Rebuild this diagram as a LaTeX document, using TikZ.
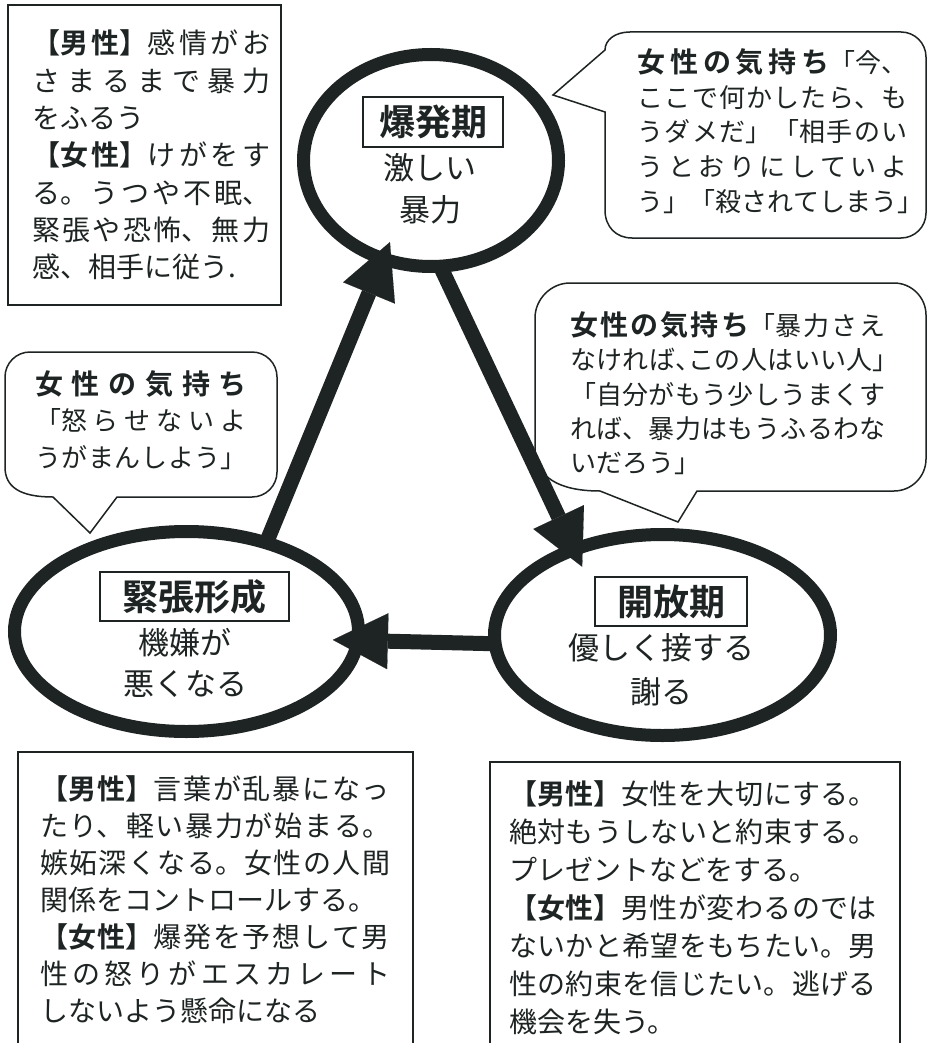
\documentclass[tikz,border=0pt]{standalone}
\usepackage{fontspec}
\setmainfont{Noto Sans CJK JP}[BoldFont={Noto Sans CJK JP Bold}]
\usetikzlibrary{shapes.geometric,arrows.meta}
\XeTeXlinebreaklocale "ja"
\XeTeXlinebreakskip=0pt plus 12pt
\definecolor{ink}{RGB}{30,35,35}
\newcommand\jb{\unskip\break}
\newcommand\rb{\unskip\hfill\break}
\newcommand\fs[2]{\fontsize{#1pt}{#2pt}\selectfont}
\begin{document}
\begin{tikzpicture}[x=1pt,y=-1pt,
  phase/.style={ellipse, draw=ink, line width=13pt, inner sep=0pt, outer sep=0pt},
  lab/.style={draw=ink, line width=1.3pt, inner sep=0pt, font=\bfseries\fs{36}{40}, text=ink},
  boxframe/.style={draw=ink, line width=1.6pt, inner sep=0pt},
  bubble/.style={draw=ink, line width=1.5pt, fill=white},
  txt/.style={inner sep=0pt, align=justify, text=ink},
  etxt/.style={inner sep=0pt, align=center, text=ink},
  arr/.style={draw=ink, line width=15pt, -{Triangle[length=55pt,width=56pt,line width=0.1pt]}}
]
\fill[white] (0,0) rectangle (929,1043);
\useasboundingbox (0,0) rectangle (929,1043);

% speech bubbles
\draw[bubble] (605,112) -- (553,95) -- (605,50) .. controls (605,40) and (615,32) .. (630,32)
  -- (901,32) .. controls (914.8,32) and (926,43.2) .. (926,57)
  -- (926,213) .. controls (926,226.8) and (914.8,238) .. (901,238)
  -- (632,238) .. controls (616,238) and (605,226.8) .. (605,210) -- cycle;
\draw[bubble] (600,491) -- (678,522) -- (697,491) -- (894,491) .. controls (911.6,491) and (926,476.6) .. (926,459)
  -- (926,315) .. controls (926,297.4) and (911.6,283) .. (894,283)
  -- (570,283) .. controls (551,283) and (535,299) .. (535,318)
  -- (535,448) .. controls (535,478) and (560,491) .. (600,491) -- cycle;
\draw[bubble] (53,497) -- (90,533) -- (117,497) -- (252,497) .. controls (265.8,497) and (277,485.8) .. (277,472)
  -- (277,377) .. controls (277,363.2) and (265.8,352) .. (252,352)
  -- (30,352) .. controls (16.2,352) and (5,363.2) .. (5,377)
  -- (5,467) .. controls (5,487) and (20,497) .. (53,497) -- cycle;

% rectangular boxes
\node[boxframe, minimum width=273pt, minimum height=300pt] (boxTL) at (144.5,155) {};
\node[boxframe, minimum width=395pt, minimum height=298pt] (boxBL) at (215.5,901) {};
\node[boxframe, minimum width=410pt, minimum height=288pt] (boxBR) at (695,906) {};

% texts
\node[txt, text width=238pt, font=\fs{28}{37.3}] (tTL) at (151,155)
{{\bfseries 【男性】}感情がお\jb さまるまで暴力\jb をふるう\rb {\bfseries 【女性】}けがをす\jb る。うつや不眠、\jb 緊張や恐怖、無力\jb 感、相手に従う.\par};

\node[txt, text width=270pt, font=\fs{26}{34.6}] (tTR) at (772.5,131)
{{\bfseries\fs{28}{34.6}女性の気持ち}「今、\jb ここで何かしたら、も\jb うダメだ」「相手のい\jb うとおりにしていよ\jb \makebox[270pt][s]{う」\hfil「殺\hfil さ\hfil れ\hfil て\hfil し\hfil ま\hfil う」}\par};

\node[txt, text width=316pt, font=\fs{26}{34.2}] (tRM) at (728,393.3)
{{\bfseries\fs{28}{34.2}女性の気持ち}「暴力さえ\jb なければ\makebox[13pt][l]{、}この人はいい人\makebox[13pt][l]{」}\jb 「自分がもう少しうまくす\jb れば、暴力はもうふるわな\jb いだろう」\par};

\node[txt, text width=212pt, font=\fs{26}{36.7}] (tLM) at (141,420)
{\parfillskip=0pt {\bfseries\fs{28}{36.7}女性の気持ち}\jb 「怒らせないよ\jb うがまんしよう」\par};

\node[txt, text width=350pt, font=\fs{28}{37}] (tBL) at (215,900)
{{\bfseries 【男性】}言葉が乱暴になっ\jb たり、軽い暴力が始まる。\jb 嫉妬深くなる。女性の人間\jb 関係をコントロールする。\rb {\bfseries 【女性】}爆発を予想して男\jb 性の怒りがエスカレート\jb しないよう懸命になる\par};

\node[txt, text width=368pt, font=\fs{28}{38}] (tBR) at (693,907.5)
{{\bfseries 【男性】}女性を大切にする。\jb 絶対もうしないと約束する。\jb プレゼントなどをする。\rb {\bfseries 【女性】}男性が変わるのでは\jb ないかと希望をもちたい。男\jb 性の約束を信じたい。逃げる\jb 機会を失う。\par};

% phase ellipses
\node[phase, minimum width=255pt, minimum height=212pt] (expl) at (431,160.5) {};
\node[phase, minimum width=344pt, minimum height=200pt] (tens) at (186.5,631.5) {};
\node[phase, minimum width=336pt, minimum height=201pt] (open) at (662.5,635) {};

\node[lab, minimum width=140pt, minimum height=50pt] (lE) at (433,122) {爆発期};
\node[lab, minimum width=189pt, minimum height=49pt] (lT) at (194.5,596.5) {緊張形成};
\node[lab, minimum width=152pt, minimum height=49pt] (lO) at (671,601.5) {開放期};

\node[etxt, font=\fs{31}{42}] (eE) at (430,189) {激しい\\暴力};
\node[etxt, font=\fs{31}{41}] (eT) at (185,662.5) {機嫌が\\悪くなる};
\node[etxt, font=\fs{31}{44}] (eO) at (661,670) {優しく接する\\謝る};

% arrows
\draw[arr, shorten >=-18pt] (tens.48) -- (expl.-116);
\draw[arr, shorten >=-19pt] (expl.-85) -- (open.136);
\draw[arr, shorten >=-25pt] (open.-177.3) -- (tens.-3.85);
\end{tikzpicture}
\end{document}
